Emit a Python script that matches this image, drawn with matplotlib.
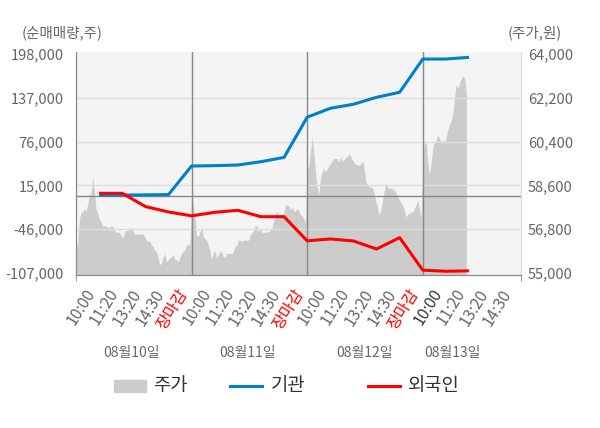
import matplotlib
matplotlib.use('Agg')
import matplotlib.pyplot as plt
import matplotlib.transforms as mtransforms
from matplotlib.patches import Rectangle
from matplotlib.lines import Line2D
import numpy as np

plt.rcParams['font.family'] = ['Noto Sans CJK KR', 'DejaVu Sans']

# net buying (shares), one point per tick label
inst = [1200, 1500, 1800, 2200, 42000, 42500, 43400, 48000, 54000,
        110000, 122400, 128000, 137700, 144700, 191000, 191000, 193400]
foreign = [4000, 4000, -14400, -22000, -27400, -22500, -19700, -28600, -28600,
           -62200, -59600, -62400, -73600, -57800, -103000, -104600, -104000]

price_d1 = [56300, 56100, 57200, 57500, 57500, 57650, 57500, 57850, 58200, 58250,
            58950, 58350, 57600, 57450, 57200, 57100, 56900, 56950, 56900, 56900,
            56850, 56950, 56900, 56750, 56650, 56700, 56650, 56550, 56400, 56700,
            56750, 56750, 56850, 56850, 56750, 56600, 56600, 56600, 56600, 56600,
            56600, 56500, 56350, 56300, 56300, 56150, 56100, 55900, 55900, 55600,
            55350, 55400, 55650, 55800, 55450, 55550, 55600, 55650, 55750, 55550,
            55550, 55450, 55650, 55800, 55900, 55950, 56150, 56150, 56150]
price_d2 = [58150, 57850, 57300, 56550, 56500, 56700, 56850, 56500, 56400, 56350,
            56150, 55900, 55550, 55850, 55900, 55600, 55750, 55900, 55850, 55650,
            55650, 55800, 55800, 55800, 55800, 55900, 56100, 56150, 56350, 56350,
            56300, 56350, 56350, 56350, 56350, 56550, 56650, 56750, 56950, 56950,
            56700, 56850, 56650, 56700, 56650, 56700, 56700, 56750, 56850, 57100,
            57450, 57550, 57400, 57400, 57350, 57450, 57800, 57800, 57750, 57600,
            57700, 57550, 57550, 57650, 57550, 57400, 57350, 57250, 57050]
price_d3 = [59250, 59350, 60000, 60600, 59900, 59100, 58500, 58250, 58900, 59150,
            59300, 59150, 59300, 59400, 59500, 59600, 59700, 59700, 59700, 59550,
            59800, 59600, 59650, 59750, 59800, 59900, 59800, 59650, 59550, 59450,
            59450, 59400, 59500, 59600, 59350, 58750, 58650, 58550, 58550, 58500,
            58250, 57950, 57700, 57400, 57600, 58000, 58350, 58700, 58550, 58450,
            58500, 58450, 58400, 58300, 58150, 58000, 57900, 57800, 57600, 57300,
            57400, 57450, 57500, 57500, 57650, 57800, 58000, 57650, 57250]
price_d4 = [59650, 60450, 60350, 59500, 59050, 59500, 60150, 60400, 60450, 60650,
            60550, 60350, 60450, 60400, 60600, 60900, 61100, 61250, 61550, 62250,
            62750, 62600, 62800, 63000, 63100, 63000, 62400]

times = ['10:00', '11:20', '13:20', '14:30', '장마감']
tick_labels = times * 3 + times[:4]
days = ['08월10일', '08월11일', '08월12일', '08월13일']
left_ticks = [-107000, -46000, 15000, 76000, 137000, 198000]
right_ticks = [55000, 56800, 58600, 60400, 62200, 64000]

fig = plt.figure(figsize=(6, 4.28), dpi=100)
ax = fig.add_axes([76 / 600, 153 / 428, 445 / 600, 223 / 428])
ax2 = ax.twinx()
ax.set_zorder(2)
ax2.set_zorder(1)
ax.patch.set_visible(False)
ax2.patch.set_visible(True)
ax2.set_facecolor('#f4f4f4')

# price area (right axis)
per_day = 5 / 69
px, py = [], []
for d, prices in enumerate([price_d1, price_d2, price_d3, price_d4]):
    px.extend(5 * d + np.arange(len(prices)) * per_day)
    py.extend(prices)
ax2.fill_between(px, py, 54000, color='#cccccc', linewidth=0)
ax2.set_ylim(54918, 64082)
ax2.set_yticks(right_ticks)
ax2.set_yticklabels([f'{v:,}' for v in right_ticks])

# net buying lines (left axis)
xs = np.arange(1, len(inst) + 1)
for t in left_ticks[1:-1]:
    ax.axhline(t, color='#dddddd', lw=1, zorder=1)
ax.axhline(0, color='#888888', lw=1, zorder=1)
for b in [5, 10, 15]:
    ax.axvline(b, color='#888888', lw=1, zorder=1)
ax.plot(xs, inst, color='#0080cc', lw=2.2, zorder=3, solid_capstyle='butt')
ax.plot(xs, foreign, color='#ff0000', lw=2.2, zorder=3, solid_capstyle='butt')
ax.set_ylim(-109800, 200800)
ax.set_yticks(left_ticks)
ax.set_yticklabels([f'{v:,}' for v in left_ticks])
ax.set_xlim(0, 19.25)

ax.set_xticks(np.arange(1, 20))
ax.set_xticklabels(tick_labels, rotation=58, ha='right', va='top')
ax.set_xticks([0, 5, 10, 15, 19.25], minor=True)
offset = mtransforms.ScaledTranslation(5 / 100, 0, fig.dpi_scale_trans)
for i, lab in enumerate(ax.get_xticklabels()):
    lab.set_transform(lab.get_transform() + offset)
    if tick_labels[i] == '장마감':
        lab.set_color('#ff0000')
    elif i == 15:
        lab.set_color('#333333')
    else:
        lab.set_color('#666666')

ax.tick_params(axis='x', which='major', length=0, pad=8, labelsize=11.5)
ax.tick_params(axis='x', which='minor', length=4, color='#888888')
ax.tick_params(axis='y', length=0, pad=9, labelsize=10.5, labelcolor='#666666')
ax2.tick_params(axis='y', length=0, pad=5, labelsize=10.5, labelcolor='#666666')

for a in (ax, ax2):
    a.spines['top'].set_visible(False)
    a.spines['left'].set_color('#888888')
    a.spines['bottom'].set_color('#888888')
    a.spines['right'].set_color('#dddddd')

# day labels under the time labels
tr = mtransforms.blended_transform_factory(ax.transData, fig.transFigure)
for x, d in zip([2.4, 7.4, 12.5, 16.3], days):
    ax.text(x, (428 - 353) / 428, d, transform=tr, ha='center', va='center',
            fontsize=10, color='#666666')

fig.text(22 / 600, (428 - 33) / 428, '(순매매량,주)', ha='left', va='center',
         fontsize=10.5, color='#666666')
fig.text(562 / 600, (428 - 33) / 428, '(주가,원)', ha='right', va='center',
         fontsize=10.5, color='#666666')

# legend drawn by hand
ly = (428 - 386) / 428
fig.add_artist(Rectangle((114 / 600, (428 - 392) / 428), 32 / 600, 12 / 428,
                         transform=fig.transFigure, color='#cccccc'))
fig.add_artist(Line2D([230 / 600, 262 / 600], [ly, ly], transform=fig.transFigure,
                      color='#0080cc', lw=2.2))
fig.add_artist(Line2D([368 / 600, 400 / 600], [ly, ly], transform=fig.transFigure,
                      color='#ff0000', lw=2.2))
for x, s in [(153, '주가'), (271, '기관'), (408, '외국인')]:
    fig.text(x / 600, ly, s, ha='left', va='center', fontsize=13.5, color='#333333')

fig.savefig('out.png', dpi=100)
